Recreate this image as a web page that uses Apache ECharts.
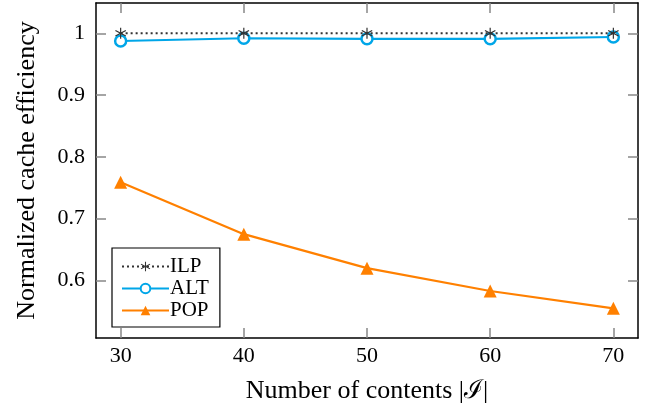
<!DOCTYPE html>
<html><head><meta charset="utf-8">
<script src="https://cdn.jsdelivr.net/npm/echarts@6/dist/echarts.min.js"></script>
<style>html,body{margin:0;padding:0;background:#fff}#c{width:645px;height:410px}</style>
</head><body><div id="c"></div>
<script>
const categories = [30, 40, 50, 60, 70];
const ilp = [1.0, 1.0, 1.0, 1.0, 1.0];
const alt = [0.9875, 0.992, 0.991, 0.991, 0.994];
const pop = [0.759, 0.675, 0.620, 0.583, 0.555];
const xTicks = [30, 40, 50, 60, 70];
const yTicks = [0.6, 0.7, 0.8, 0.9, 1];

const FONT = '"Liberation Serif", "DejaVu Serif", serif';
const star = 'path://M-1,-10 L1,-10 L1,-1.7 L8.2,-5.9 L9.2,-4.1 L2,0 L9.2,4.1 L8.2,5.9 L1,1.7 L1,10 L-1,10 L-1,1.7 L-8.2,5.9 L-9.2,4.1 L-2,0 L-9.2,-4.1 L-8.2,-5.9 L-1,-1.7 Z';
const tickStyle = {show: true, inside: true, length: 10, lineStyle: {color: '#888', width: 1.5}};
const lineStyle = {show: true, lineStyle: {color: '#000', width: 1.5}};

const chart = echarts.init(document.getElementById('c'), null, {renderer: 'canvas'});
chart.setOption({
  animation: false,
  backgroundColor: '#fff',
  grid: {left: 96, right: 7, top: 3, bottom: 72, containLabel: false},
  xAxis: [{
    type: 'value', min: 28, max: 72, position: 'bottom',
    name: 'Number of contents |ℐ|', nameLocation: 'middle', nameGap: 40,
    nameTextStyle: {fontFamily: FONT, fontSize: 26, color: '#000'},
    axisLine: lineStyle,
    axisTick: Object.assign({customValues: xTicks}, tickStyle),
    axisLabel: {customValues: xTicks, fontFamily: FONT, fontSize: 22, color: '#000', margin: 7},
    splitLine: {show: false}
  }, {
    type: 'value', min: 28, max: 72, position: 'top',
    axisLine: lineStyle,
    axisTick: Object.assign({customValues: xTicks}, tickStyle),
    axisLabel: {show: false}, splitLine: {show: false}
  }],
  yAxis: [{
    type: 'value', min: 0.507, max: 1.049, position: 'left',
    name: 'Normalized cache efficiency', nameLocation: 'middle', nameGap: 56, nameRotate: 90,
    nameTextStyle: {fontFamily: FONT, fontSize: 26, color: '#000'},
    axisLine: lineStyle,
    axisTick: Object.assign({customValues: yTicks}, tickStyle),
    axisLabel: {customValues: yTicks, fontFamily: FONT, fontSize: 22, color: '#000', margin: 11,
      formatter: v => (Math.abs(v - 1) < 1e-9 ? '1' : v.toFixed(1))},
    splitLine: {show: false}
  }, {
    type: 'value', min: 0.507, max: 1.049, position: 'right',
    axisLine: lineStyle,
    axisTick: Object.assign({customValues: yTicks}, tickStyle),
    axisLabel: {show: false}, splitLine: {show: false}
  }],
  legend: {
    orient: 'vertical', left: 112, top: 248,
    backgroundColor: '#fff', borderColor: '#000', borderWidth: 1.2, borderRadius: 0,
    padding: [8, 11, 6, 9], itemGap: 1, itemWidth: 47, itemHeight: 12,
    textStyle: {fontFamily: FONT, fontSize: 21, color: '#000', padding: [0, 0, 0, -4]},
    data: ['ILP', 'ALT', 'POP']
  },
  series: [{
    name: 'ILP', type: 'line', data: categories.map((c, i) => [c, ilp[i]]),
    symbol: star, symbolSize: 11, z: 3,
    lineStyle: {color: '#333', width: 2, type: [2, 3]},
    itemStyle: {color: '#333', borderWidth: 0}
  }, {
    name: 'ALT', type: 'line', data: categories.map((c, i) => [c, alt[i]]),
    symbol: 'circle', symbolSize: 11, z: 2,
    lineStyle: {color: '#00a6e8', width: 2.2},
    itemStyle: {color: '#fff', borderColor: '#00a6e8', borderWidth: 2.5}
  }, {
    name: 'POP', type: 'line', data: categories.map((c, i) => [c, pop[i]]),
    symbol: 'triangle', symbolSize: 13, z: 2,
    lineStyle: {color: '#ff8000', width: 2.2},
    itemStyle: {color: '#ff8000', borderWidth: 0}
  }]
});
</script></body></html>
